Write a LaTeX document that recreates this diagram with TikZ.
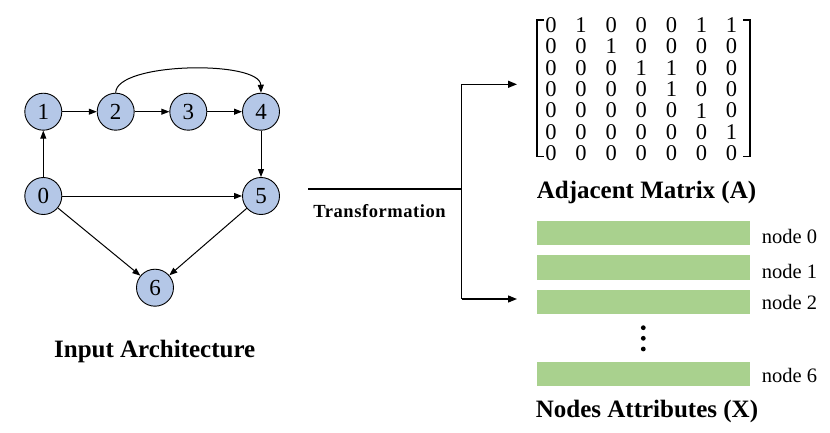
\documentclass[tikz,border=0pt]{standalone}
\usepackage{fontspec}
\setmainfont{Liberation Serif}
\usetikzlibrary{arrows.meta}
\definecolor{nodeblue}{HTML}{B4C7E7}
\definecolor{bargreen}{HTML}{A9D18E}
\tikzset{
  gnode/.style={circle,draw=black,line width=0.9pt,fill=nodeblue,minimum size=37pt,inner sep=0pt,font=\fontsize{23}{23}\selectfont},
  edge/.style={line width=1pt,-{Triangle[length=8pt,width=6pt]}},
  tline/.style={line width=1.3pt},
  bracket/.style={line width=1.6pt},
  entry/.style={inner sep=0pt,font=\fontsize{22.5}{22.5}\selectfont},
  bar/.style={fill=bargreen,draw=none,minimum width=213pt,minimum height=24.3pt,inner sep=0pt,anchor=north west},
  nlabel/.style={anchor=base west,inner sep=0pt,font=\fontsize{20.5}{20.5}\selectfont},
  title/.style={anchor=base,inner sep=0pt,font=\fontsize{25}{25}\selectfont\bfseries},
}
\begin{document}
\begin{tikzpicture}[x=1pt,y=-1pt]
\useasboundingbox (0,0) rectangle (830,433);
% graph
\node[gnode] (n1) at (43.3,111.7) {1};
\node[gnode] (n2) at (115.7,111.7) {2};
\node[gnode] (n3) at (188.3,111.7) {3};
\node[gnode] (n4) at (261,111.7) {4};
\node[gnode] (n0) at (43.3,196) {0};
\node[gnode] (n5) at (261,196) {5};
\node[gnode] (n6) at (155,287.7) {6};
\draw[edge] (n1) -- (n2);
\draw[edge] (n2) -- (n3);
\draw[edge] (n3) -- (n4);
\draw[edge] (n0) -- (n1);
\draw[edge] (n4) -- (n5);
\draw[edge] (n0) -- (n5);
\draw[edge] (n0) -- (n6);
\draw[edge] (n5) -- (n6);
\draw[edge] (n2.north) .. controls (116,62) and (260,60) .. (n4.north);
\node[title] (tin) at (154.7,357.3) {Input Architecture};
% transformation
\coordinate (ts) at (308,189);
\coordinate (tj) at (461.7,189);
\coordinate (tt) at (461.7,84.3);
\coordinate (tb) at (461.7,299);
\coordinate (ta) at (517,84.3);
\coordinate (tc) at (517,299);
\draw[tline] (ts) -- (tj);
\draw[tline] (tt) -- (tb);
\draw[tline,-{Triangle[length=9pt,width=7pt]}] (tt) -- (ta);
\draw[tline,-{Triangle[length=9pt,width=7pt]}] (tb) -- (tc);
\node[anchor=base,inner sep=0pt,font=\fontsize{18.5}{18.5}\selectfont\bfseries] (ttr) at (379.5,217.7) {\addfontfeature{LetterSpace=3}Transformation};
% matrix
\draw[bracket] (544,20) -- (537,20) -- (537,156.7) -- (544,156.7);
\draw[bracket] (743,20) -- (750,20) -- (750,156.7) -- (743,156.7);
\foreach \row [count=\r from 0] in {{0,1,0,0,0,1,1},{0,0,1,0,0,0,0},{0,0,0,1,1,0,0},{0,0,0,0,1,0,0},{0,0,0,0,0,1,0},{0,0,0,0,0,0,1},{0,0,0,0,0,0,0}}{
  \foreach \v [count=\c from 0] in \row {
    \node[entry] (m-\r-\c) at (551+30.1*\c,25+21.4*\r) {\v};
  }
}
\node[title] (tadj) at (646.5,198.3) {Adjacent Matrix (A)};
% attributes
\node[bar] (b0) at (537,220.7) {};
\node[bar] (b1) at (537,255) {};
\node[bar] (b2) at (537,289.5) {};
\node[bar] (b6) at (537,361.7) {};
\node[nlabel] (l0) at (761.7,243.3) {node 0};
\node[nlabel] (l1) at (761.7,278.3) {node 1};
\node[nlabel] (l2) at (761.7,309) {node 2};
\node[nlabel] (l6) at (761.7,382.7) {node 6};
\fill (643.3,327.7) circle (2.4pt);
\fill (643.3,338.3) circle (2.4pt);
\fill (643.3,349) circle (2.4pt);
\node[title] (tnod) at (647,417.3) {Nodes Attributes (X)};
\end{tikzpicture}
\end{document}
